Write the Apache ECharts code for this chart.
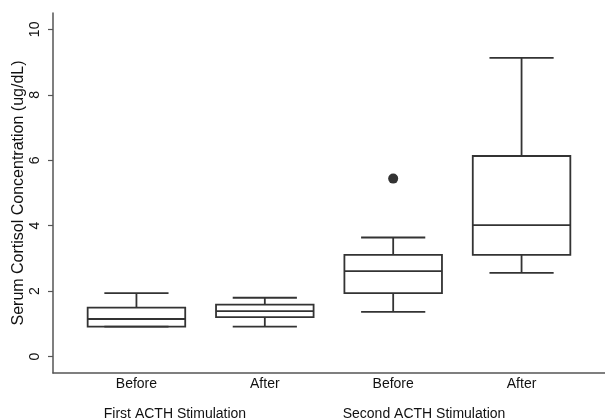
<!DOCTYPE html>
<html>
<head>
<meta charset="utf-8">
<script src="https://cdn.jsdelivr.net/npm/echarts@6/dist/echarts.min.js"></script>
<style>
html, body { margin: 0; padding: 0; background: #fff; }
#chart { width: 605px; height: 420px; }
</style>
</head>
<body>
<div id="chart"></div>
<script>
// data
var categories = ['Before', 'After', 'Before', 'After'];
var catPos = [1, 2, 3, 4];
var groups = ['First ACTH Stimulation', 'Second ACTH Stimulation'];
var groupPos = [1.3, 3.24];
var lowWhisker = [0.92, 0.92, 1.37, 2.56];
var q1 = [0.92, 1.21, 1.94, 3.11];
var medians = [1.15, 1.39, 2.61, 4.02];
var q3 = [1.50, 1.59, 3.11, 6.13];
var highWhisker = [1.94, 1.80, 3.64, 9.13];
var outliers = [[3, 5.44]];
var yTicks = [0, 2, 4, 6, 8, 10];

(function () {
	var myChart = echarts.init(document.getElementById('chart'));
	var lineColor = '#333';
	var textColor = '#111';
	var font = "'Liberation Sans', Arial, Helvetica, sans-serif";

	var boxData = catPos.map(function (x, i) {
		return [x, lowWhisker[i], q1[i], medians[i], q3[i], highWhisker[i]];
	});

	function renderBox(params, api) {
		var x = api.value(0);
		var lo = api.coord([x, api.value(1)]);
		var b1 = api.coord([x, api.value(2)]);
		var md = api.coord([x, api.value(3)]);
		var b3 = api.coord([x, api.value(4)]);
		var hi = api.coord([x, api.value(5)]);
		var bw = api.size([0.76, 0])[0];   // box width
		var cw = api.size([0.5, 0])[0];    // whisker cap width
		var st = { stroke: lineColor, lineWidth: 1.8, fill: 'none' };
		var cx = b1[0];
		return {
			type: 'group',
			children: [
				{ type: 'line', shape: { x1: cx, y1: b3[1], x2: cx, y2: hi[1] }, style: st },
				{ type: 'line', shape: { x1: cx, y1: b1[1], x2: cx, y2: lo[1] }, style: st },
				{ type: 'line', shape: { x1: cx - cw / 2, y1: hi[1], x2: cx + cw / 2, y2: hi[1] }, style: st },
				{ type: 'line', shape: { x1: cx - cw / 2, y1: lo[1], x2: cx + cw / 2, y2: lo[1] }, style: st },
				{ type: 'rect', shape: { x: cx - bw / 2, y: b3[1], width: bw, height: b1[1] - b3[1] }, style: st },
				{ type: 'line', shape: { x1: cx - bw / 2, y1: md[1], x2: cx + bw / 2, y2: md[1] }, style: st }
			]
		};
	}

	var option = {
		animation: false,
		backgroundColor: '#fff',
		grid: {
			left: 53,
			right: 0,
			top: 13,
			bottom: 47,
			outerBoundsMode: 'none'
		},
		xAxis: [
			{
				type: 'value',
				min: 0.35,
				max: 4.65,
				splitLine: { show: false },
				axisTick: { show: false },
				axisLine: { show: true, onZero: false, lineStyle: { color: '#555', width: 1.5 } },
				axisLabel: {
					customValues: catPos,
					margin: 4,
					color: textColor,
					fontSize: 14,
					fontFamily: font,
					formatter: function (v) {
						return categories[Math.round(v) - 1];
					}
				}
			},
			{
				type: 'value',
				position: 'bottom',
				offset: 30,
				min: 0.35,
				max: 4.65,
				splitLine: { show: false },
				axisTick: { show: false },
				axisLine: { show: false },
				axisLabel: {
					customValues: groupPos,
					margin: 4,
					color: textColor,
					fontSize: 14,
					fontFamily: font,
					formatter: function (v) {
						return groups[groupPos.indexOf(v)];
					}
				}
			}
		],
		yAxis: {
			type: 'value',
			min: -0.5,
			max: 10.5,
			name: 'Serum Cortisol Concentration (ug/dL)',
			nameLocation: 'middle',
			nameGap: 26,
			nameMoveOverlap: false,
			nameTextStyle: { color: textColor, fontSize: 16, fontFamily: font },
			splitLine: { show: false },
			axisLine: { show: true, lineStyle: { color: '#555', width: 1.5 } },
			axisTick: {
				show: true,
				customValues: yTicks,
				length: 5,
				lineStyle: { color: '#555', width: 1.2 }
			},
			axisLabel: {
				customValues: yTicks,
				rotate: 90,
				margin: 11,
				color: textColor,
				fontSize: 14,
				fontFamily: font
			}
		},
		series: [
			{
				type: 'custom',
				renderItem: renderBox,
				encode: { x: 0, y: [1, 2, 3, 4, 5] },
				data: boxData,
				silent: true
			},
			{
				type: 'scatter',
				symbol: 'circle',
				symbolSize: 10,
				itemStyle: { color: '#000' },
				data: outliers
			}
		]
	};
	myChart.setOption(option);
	window.addEventListener('resize', function () {
		myChart.resize();
	});
})();
</script>
</body>
</html>
